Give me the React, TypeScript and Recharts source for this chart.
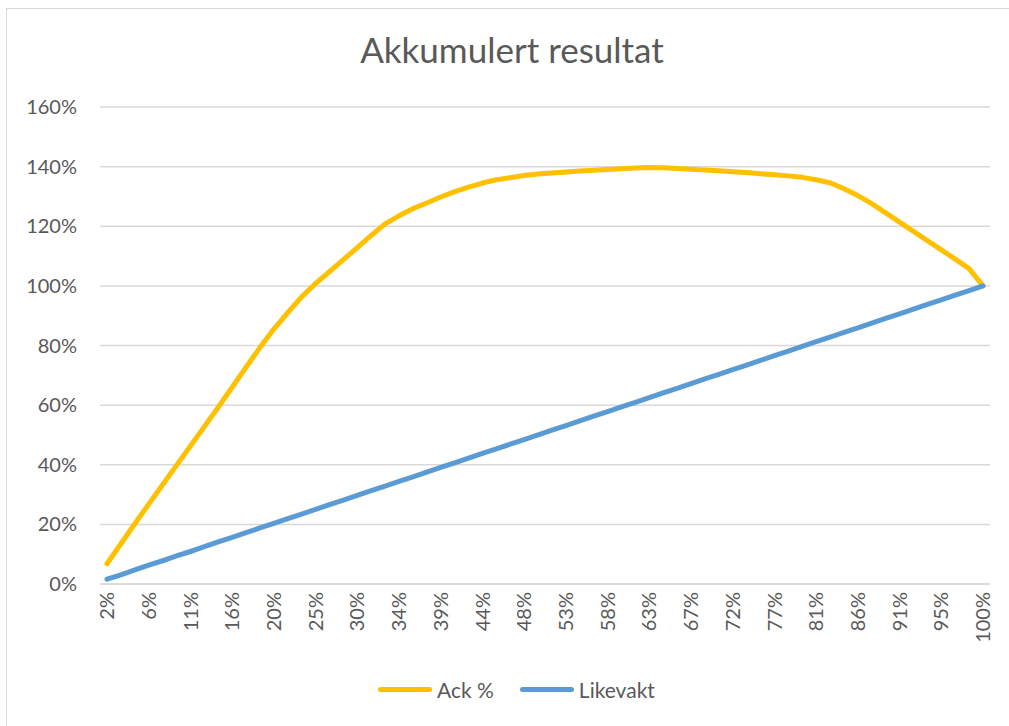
import React from 'react';
import { LineChart, Line, XAxis, YAxis, CartesianGrid } from 'recharts';

// category labels (share of total, rounded as shown in the sheet)
const categories = [
  '2%', '3%', '5%', '6%', '8%', '9%', '11%', '13%', '14%', '16%',
  '17%', '19%', '20%', '22%', '23%', '25%', '27%', '28%', '30%', '31%',
  '33%', '34%', '36%', '38%', '39%', '41%', '42%', '44%', '45%', '47%',
  '48%', '50%', '52%', '53%', '55%', '56%', '58%', '59%', '61%', '63%',
  '64%', '66%', '67%', '69%', '70%', '72%', '73%', '75%', '77%', '78%',
  '80%', '81%', '83%', '84%', '86%', '88%', '89%', '91%', '92%', '94%',
  '95%', '97%', '98%', '100%'
];

const ackPct = [
  6.8, 13.5, 20.2, 26.8, 33.3, 39.8, 46.3, 52.8, 59.3, 66.0,
  72.7, 79.3, 85.5, 91.0, 96.3, 100.8, 104.8, 108.8, 112.8, 116.9,
  120.8, 123.5, 125.9, 127.8, 129.8, 131.6, 133.1, 134.5, 135.6, 136.3,
  137.0, 137.5, 137.9, 138.2, 138.5, 138.8, 139.0, 139.3, 139.5, 139.7,
  139.6, 139.4, 139.1, 138.9, 138.6, 138.3, 138.0, 137.6, 137.3, 136.9,
  136.4, 135.6, 134.6, 132.6, 130.3, 127.6, 124.5, 121.4, 118.3, 115.2,
  112.1, 109.0, 105.8, 100.0
];

const likevakt = [
  1.6, 3.1, 4.7, 6.3, 7.8, 9.4, 10.9, 12.5, 14.1, 15.6,
  17.2, 18.8, 20.3, 21.9, 23.4, 25.0, 26.6, 28.1, 29.7, 31.3,
  32.8, 34.4, 35.9, 37.5, 39.1, 40.6, 42.2, 43.8, 45.3, 46.9,
  48.4, 50.0, 51.6, 53.1, 54.7, 56.3, 57.8, 59.4, 60.9, 62.5,
  64.1, 65.6, 67.2, 68.8, 70.3, 71.9, 73.4, 75.0, 76.6, 78.1,
  79.7, 81.3, 82.8, 84.4, 85.9, 87.5, 89.1, 90.6, 92.2, 93.8,
  95.3, 96.9, 98.4, 100.0
];

const yTicks = [0, 20, 40, 60, 80, 100, 120, 140, 160];

const data = categories.map((c, i) => ({ cat: c, ack: ackPct[i], lik: likevakt[i] }));

const FONT = 'Lato, "Open Sans", sans-serif';
const TEXT = '#595959';
const GRID = '#D9D9D9';
const ORANGE = '#FFC000';
const BLUE = '#5B9BD5';

const RotatedTick = ({ x, y, payload }: any) => (
  <g transform={`translate(${x},${y})`}>
    <text
      x={0}
      y={0}
      dy="0.36em"
      textAnchor="end"
      transform="rotate(-90)"
      fill={TEXT}
      fontSize={20}
      fontFamily={FONT}
    >
      {payload.value}
    </text>
  </g>
);

const LegendItem = ({ color, label }: { color: string; label: string }) => (
  <div style={{ display: 'flex', alignItems: 'center', marginRight: 26 }}>
    <div style={{ width: 54, height: 5, borderRadius: 3, background: color, marginRight: 5 }} />
    <span>{label}</span>
  </div>
);

export default function App() {
  return (
    <div style={{ position: 'absolute', left: 0, top: 0, width: 1009, height: 726, background: '#fff', overflow: 'hidden', fontFamily: FONT }}>
      <div
        style={{
          position: 'absolute', left: 6, top: 8, width: 1003, height: 718,
          borderLeft: `1px solid ${GRID}`, borderTop: `1px solid ${GRID}`, boxSizing: 'border-box'
        }}
      />
      <div style={{ position: 'absolute', left: 0, width: 1024, top: 28, textAlign: 'center', fontSize: 35, color: TEXT }}>
        Akkumulert resultat
      </div>
      <div style={{ position: 'absolute', left: 0, top: 0 }}>
        <LineChart width={1009} height={726} data={data} margin={{ top: 107, right: 19, bottom: 82, left: 0 }}>
          <CartesianGrid vertical={false} stroke={GRID} strokeWidth={1.5} />
          <XAxis
            dataKey="cat"
            interval={2}
            height={60}
            tickLine={false}
            axisLine={{ stroke: GRID, strokeWidth: 1.5 }}
            padding={{ left: 7, right: 7 }}
            tick={<RotatedTick />}
          />
          <YAxis
            width={100}
            domain={[0, 160]}
            ticks={yTicks}
            tickFormatter={(v: number) => `${v}%`}
            axisLine={false}
            tickLine={false}
            tickMargin={17}
            tick={{ fill: TEXT, fontSize: 20, fontFamily: FONT }}
          />
          <Line type="linear" dataKey="ack" stroke={ORANGE} strokeWidth={5} strokeLinecap="round" strokeLinejoin="round" dot={false} isAnimationActive={false} />
          <Line type="linear" dataKey="lik" stroke={BLUE} strokeWidth={5} strokeLinecap="round" strokeLinejoin="round" dot={false} isAnimationActive={false} />
        </LineChart>
      </div>
      <div style={{ position: 'absolute', left: 378, top: 677, display: 'flex', fontSize: 21, color: TEXT }}>
        <LegendItem color={ORANGE} label="Ack %" />
        <LegendItem color={BLUE} label="Likevakt" />
      </div>
    </div>
  );
}
